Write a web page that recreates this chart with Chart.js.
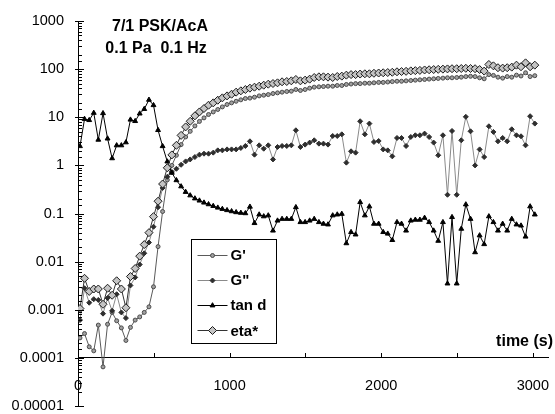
<!DOCTYPE html>
<html>
<head>
<meta charset="utf-8">
<script src="https://cdn.jsdelivr.net/npm/chart.js@4.4.0/dist/chart.umd.min.js"></script>
<style>
html, body { margin: 0; padding: 0; background: #fff; }
#wrap { position: relative; width: 555px; height: 414px; }
</style>
</head>
<body>
<div id="wrap"><canvas id="chart"></canvas></div>
<script>
// time (s) of each sample
const time = [
  13, 43, 74, 104, 134, 165, 195, 225, 255, 286,
  316, 346, 377, 407, 437, 468, 498, 528, 558, 589,
  619, 649, 680, 710, 740, 771, 801, 831, 861, 892,
  922, 952, 983, 1013, 1043, 1074, 1104, 1134, 1164, 1195,
  1225, 1255, 1286, 1316, 1346, 1377, 1407, 1437, 1467, 1498,
  1528, 1558, 1589, 1619, 1649, 1680, 1710, 1740, 1770, 1801,
  1831, 1861, 1892, 1922, 1952, 1983, 2013, 2043, 2073, 2104,
  2134, 2164, 2195, 2225, 2255, 2286, 2316, 2346, 2376, 2407,
  2437, 2467, 2498, 2528, 2558, 2589, 2619, 2649, 2679, 2710,
  2740, 2770, 2801, 2831, 2861, 2892, 2922, 2952, 2982, 3013
];

const gPrime = [
  0.00026, 0.00032, 0.00017, 0.00014, 0.00048, 0.000065, 0.0005, 0.00088, 0.00059, 0.00042,
  0.00023, 0.00043, 0.00061, 0.00071, 0.00088, 0.00115, 0.003, 0.0205, 0.11, 0.5,
  1.0, 1.62, 2.7, 3.9, 5.1, 6.6, 8.2, 9.7, 11.4, 12.9,
  14.5, 16.4, 18.4, 19.9, 21.5, 23, 24.5, 25, 26.1, 27.8,
  28.7, 29.6, 31.1, 32.1, 33.2, 34.3, 34.8, 37.7, 36, 37.7,
  40.2, 42.2, 42.9, 43.5, 44.2, 44.2, 45.7, 45.7, 48, 49,
  50, 50, 51, 51, 52, 53, 53, 54, 55, 56,
  56, 57, 58, 59, 60, 61, 62, 63, 64, 65,
  66, 66, 67, 68, 70, 71, 70, 66, 63, 77,
  74, 68, 65, 70, 68, 75, 72, 84, 70, 73
];

const gDouble = [
  0.00061, 0.0028, 0.0014, 0.00166, 0.0016, 0.00083, 0.00175, 0.00095, 0.0021, 0.00088,
  0.00067, 0.0032, 0.0047, 0.0087, 0.0149, 0.025, 0.053, 0.135, 0.34, 0.58,
  0.73, 0.85, 1.03, 1.21, 1.33, 1.49, 1.67, 1.75, 1.75, 1.84,
  2.05, 2.05, 2.15, 2.15, 2.15, 2.3, 2.53, 3.16, 1.67, 2.61,
  2.22, 2.61, 1.33, 2.41, 2.53, 2.53, 2.61, 5.36, 2.41, 2.7,
  2.97, 3.32, 2.83, 2.83, 2.7, 4.08, 4.08, 4.42, 1.14, 1.96,
  1.84, 8.25, 4.42, 7.38, 3.06, 3.21, 2.15, 2.05, 1.54, 3.71,
  3.71, 2.53, 3.89, 4.22, 4.22, 4.57, 3.89, 2.97, 1.62, 4.22,
  0.245, 5.19, 0.245, 3.32, 10.2, 5.11, 1.0, 2.15, 1.49, 6.49,
  4.95, 3.16, 3.71, 3.16, 5.62, 4.22, 4.02, 2.61, 10.5, 7.38
];

const tanD = [
  2.5, 9.2, 8.7, 12.3, 3.4, 12.1, 3.6, 1.4, 2.6, 2.6,
  3.0, 8.9, 8.3, 11.9, 14.8, 23, 17.8, 5.4, 2.5, 1.2,
  0.7, 0.49, 0.365, 0.28, 0.237, 0.205, 0.185, 0.168, 0.155, 0.143,
  0.132, 0.124, 0.117, 0.111, 0.106, 0.103, 0.101, 0.138, 0.063, 0.095,
  0.087, 0.091, 0.044, 0.071, 0.077, 0.077, 0.077, 0.135, 0.066, 0.066,
  0.071, 0.077, 0.066, 0.061, 0.059, 0.091, 0.095, 0.098, 0.024, 0.041,
  0.0365, 0.172, 0.091, 0.14, 0.061, 0.061, 0.041, 0.038, 0.028, 0.066,
  0.061, 0.044, 0.071, 0.074, 0.074, 0.081, 0.066, 0.044, 0.027, 0.066,
  0.0035, 0.084, 0.0035, 0.048, 0.154, 0.077, 0.0156, 0.035, 0.023, 0.087,
  0.066, 0.044, 0.061, 0.044, 0.077, 0.059, 0.056, 0.033, 0.14, 0.095
];

const etaStar = [
  0.00106, 0.0045, 0.0024, 0.0027, 0.0027, 0.0013, 0.0028, 0.002, 0.004, 0.0027,
  0.0011, 0.0049, 0.0072, 0.013, 0.0226, 0.04, 0.086, 0.18, 0.41, 0.89,
  1.65, 2.61, 4.2, 6.3, 8.25, 10.7, 12.9, 15.2, 17.8, 19.9,
  22.6, 25.3, 27.8, 30.1, 33.2, 35.4, 37.7, 40.2, 42.2, 44.2,
  46.4, 48.7, 50.2, 51.9, 54.5, 55.3, 57.1, 61, 57.1, 59,
  61.9, 67, 69.2, 69.2, 68.1, 67, 70.3, 71.5, 75, 77,
  77, 79, 80, 80, 82, 83, 84, 85, 86, 88,
  89, 90, 92, 93, 94, 96, 97, 98, 99, 100,
  101, 102, 102, 103, 104, 103, 102, 98, 91, 125,
  117, 107, 105, 107, 110, 121, 112, 135, 112, 121
];

const yTickLabels = ['1000', '100', '10', '1', '0.1', '0.01', '0.001', '0.0001', '0.00001'];
const xTickValues = [0, 500, 1000, 1500, 2000, 2500, 3000];
const xTickLabels = ['0', '1000', '2000', '3000'];
const titleLines = ['7/1 PSK/AcA', '0.1 Pa  0.1 Hz'];
const xTitle = 'time (s)';

const FONT = 'Arial, "Liberation Sans", sans-serif';
const xCrossAt = 0.0001;

function isPow10(v) {
    const l = Math.log10(v);
    return Math.abs(l - Math.round(l)) < 1e-6;
}

function pts(series) {
    return time.map((t, i) => ({ x: t, y: series[i] }));
}

function makeSet(label, series, style) {
    return Object.assign({
        label: label,
        data: pts(series),
        borderWidth: 1,
        pointBorderWidth: 1,
        tension: 0,
        fill: false
    }, style);
}

// scales reserve room for their end labels; the layout padding handles that here
function noPad(s) {
    s.paddingLeft = 0;
    s.paddingRight = 0;
    s.paddingTop = 0;
    s.paddingBottom = 0;
}

const datasets = [
    makeSet("G'", gPrime, {
        borderColor: '#5a5a5a', pointStyle: 'circle', pointRadius: 2,
        pointBackgroundColor: '#a0a0a0', pointBorderColor: '#4a4a4a', order: 4
    }),
    makeSet('G"', gDouble, {
        borderColor: '#8a8a8a', pointStyle: 'rectRot', pointRadius: 2.5,
        pointBackgroundColor: '#2e2e2e', pointBorderColor: '#2e2e2e', order: 3
    }),
    makeSet('tan d', tanD, {
        borderColor: '#000', pointStyle: 'triangle', pointRadius: 2.8,
        pointBackgroundColor: '#000', pointBorderColor: '#000', order: 2
    }),
    makeSet('eta*', etaStar, {
        borderColor: '#333', pointStyle: 'rectRot', pointRadius: 4,
        pointBackgroundColor: '#c4c4c4', pointBorderColor: '#1a1a1a', order: 1
    })
];

const decorPlugin = {
    id: 'decor',
    afterDraw(chart) {
        const ctx = chart.ctx;
        const xs = chart.scales.x, ys = chart.scales.y;
        const area = chart.chartArea;
        const x0 = xs.getPixelForValue(0);
        const y0 = ys.getPixelForValue(xCrossAt);
        ctx.save();
        ctx.strokeStyle = '#000';
        ctx.lineWidth = 1;

        // y tick marks, on the inside
        ys.ticks.forEach(t => {
            const py = Math.round(ys.getPixelForValue(t.value)) + 0.5;
            const major = isPow10(t.value);
            ctx.beginPath();
            ctx.moveTo(Math.round(x0) - (major ? 3 : 0), py);
            ctx.lineTo(Math.round(x0) + (major ? 6 : 4), py);
            ctx.stroke();
        });
        // x tick marks, pointing up
        xs.ticks.forEach(t => {
            const px = Math.round(xs.getPixelForValue(t.value)) + 0.5;
            ctx.beginPath();
            ctx.moveTo(px, Math.round(y0));
            ctx.lineTo(px, Math.round(y0) - 5);
            ctx.stroke();
        });

        // title text
        ctx.fillStyle = '#000';
        ctx.font = 'bold 16px ' + FONT;
        ctx.textAlign = 'center';
        ctx.textBaseline = 'middle';
        ctx.fillText(titleLines[0], area.left + 82, area.top + 6);
        ctx.fillText(titleLines[1], area.left + 78, area.top + 28);

        // axis title
        ctx.textAlign = 'right';
        ctx.fillText(xTitle, area.right + 5, y0 - 16);

        // legend box
        const lx = area.left + 113.5, ly = area.top + 218.5, lw = 85, lh = 104;
        ctx.fillStyle = '#fff';
        ctx.fillRect(lx, ly, lw, lh);
        ctx.strokeStyle = '#000';
        ctx.strokeRect(lx, ly, lw, lh);
        ctx.font = 'bold 15px ' + FONT;
        ctx.textAlign = 'left';
        chart.data.datasets.forEach((ds, i) => {
            const cy = ly + 15 + i * 25.3;
            ctx.strokeStyle = ds.borderColor;
            ctx.lineWidth = 1;
            ctx.beginPath();
            ctx.moveTo(lx + 6, Math.round(cy) + 0.5);
            ctx.lineTo(lx + 36, Math.round(cy) + 0.5);
            ctx.stroke();
            ctx.fillStyle = ds.pointBackgroundColor;
            ctx.strokeStyle = ds.pointBorderColor;
            Chart.helpers.drawPoint(ctx, {
                pointStyle: ds.pointStyle, radius: ds.pointRadius,
                borderWidth: 1, rotation: 0
            }, lx + 21, Math.round(cy) + 0.5);
            ctx.fillStyle = '#000';
            ctx.fillText(ds.label, lx + 39, cy + 1);
        });
        ctx.restore();
    }
};

new Chart(document.getElementById('chart'), {
    type: 'line',
    data: { datasets: datasets },
    options: {
        responsive: true,
        maintainAspectRatio: false,
        animation: false,
        events: [],
        layout: { padding: { left: 10, top: 21, right: 7, bottom: 8 } },
        plugins: { legend: { display: false }, tooltip: { enabled: false } },
        scales: {
            x: {
                type: 'linear',
                position: { y: xCrossAt },
                min: 0,
                max: 3100,
                afterBuildTicks: s => { s.ticks = xTickValues.map(v => ({ value: v })); },
                afterFit: s => { s.height = 0; noPad(s); },
                grid: { display: false, drawTicks: false },
                border: { display: true, color: '#000', width: 1 },
                ticks: {
                    autoSkip: false,
                    maxRotation: 0,
                    padding: 19,
                    color: '#000',
                    font: { family: FONT, size: 14.5 },
                    callback: v => (v % 1000 === 0 ? xTickLabels[v / 1000] : '')
                }
            },
            y: {
                type: 'logarithmic',
                min: 0.00001,
                max: 1000,
                afterFit: s => { s.width = 68; noPad(s); },
                grid: { display: false, drawTicks: false },
                border: { display: true, color: '#000', width: 1 },
                ticks: {
                    autoSkip: false,
                    padding: 14,
                    color: '#000',
                    font: { family: FONT, size: 14.5 },
                    callback: v => {
                        if (!isPow10(v)) return '';
                        return yTickLabels[3 - Math.round(Math.log10(v))];
                    }
                }
            }
        }
    },
    plugins: [decorPlugin]
});
</script>
</body>
</html>
